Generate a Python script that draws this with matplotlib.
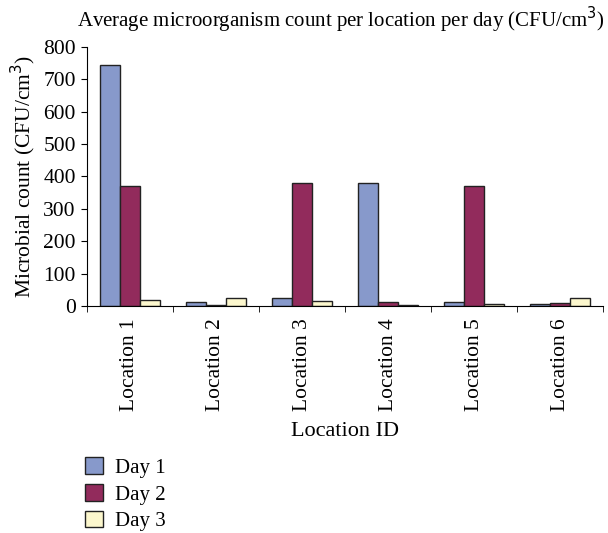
import numpy as np
import matplotlib
matplotlib.use("Agg")
from matplotlib import pyplot as plt
from matplotlib.patches import Patch

locations = ["Location 1", "Location 2", "Location 3", "Location 4", "Location 5", "Location 6"]
day1 = [743, 11, 23, 379, 11, 7]
day2 = [370, 4, 379, 11, 370, 9]
day3 = [19, 23, 16, 2, 6, 23]
days = ["Day 1", "Day 2", "Day 3"]
colors = ["#8799cb", "#922b5c", "#fcf7cd"]

plt.rcParams["font.family"] = ["Liberation Serif", "DejaVu Serif"]

fig = plt.figure(figsize=(6.08, 5.33), dpi=100)
ax = fig.add_axes([0.143, 0.426, 0.849, 0.486])

x = np.arange(len(locations))
w = 0.233
for i, vals in enumerate([day1, day2, day3]):
    ax.bar(x + (i - 1) * w, vals, width=w, color=colors[i], edgecolor="#222222", linewidth=1.0)

ax.set_xlim(-0.5, len(locations) - 0.5)
ax.set_ylim(0, 800)
ax.set_yticks(range(0, 801, 100))
ax.tick_params(axis="y", labelsize=15.5, length=4, direction="out", pad=4)
ax.set_xticks(x)
ax.set_xticklabels(locations, rotation=90, fontsize=15.5)
ax.tick_params(axis="x", length=0, pad=9)
ax.set_xticks(np.arange(-0.5, len(locations), 1), minor=True)
ax.tick_params(axis="x", which="minor", length=4, direction="out")
for s in ["top", "right"]:
    ax.spines[s].set_visible(False)

ax.set_ylabel("Microbial count (CFU/cm$^3$)", fontsize=15.5, labelpad=4)
ax.set_xlabel("Location ID", fontsize=16, labelpad=8)
fig.text(0.561, 0.962, "Average microorganism count per location per day (CFU/cm$^3$)",
         ha="center", va="center", fontsize=15)

handles = [Patch(facecolor=c, edgecolor="#222222", label=d) for c, d in zip(colors, days)]
fig.legend(handles=handles, loc="upper left", bbox_to_anchor=(0.14, 0.142), frameon=False,
           fontsize=15, handlelength=0.85, handleheight=0.85, labelspacing=0.3, handletextpad=0.6,
           borderaxespad=0, borderpad=0)

fig.savefig("out.png", dpi=100)
